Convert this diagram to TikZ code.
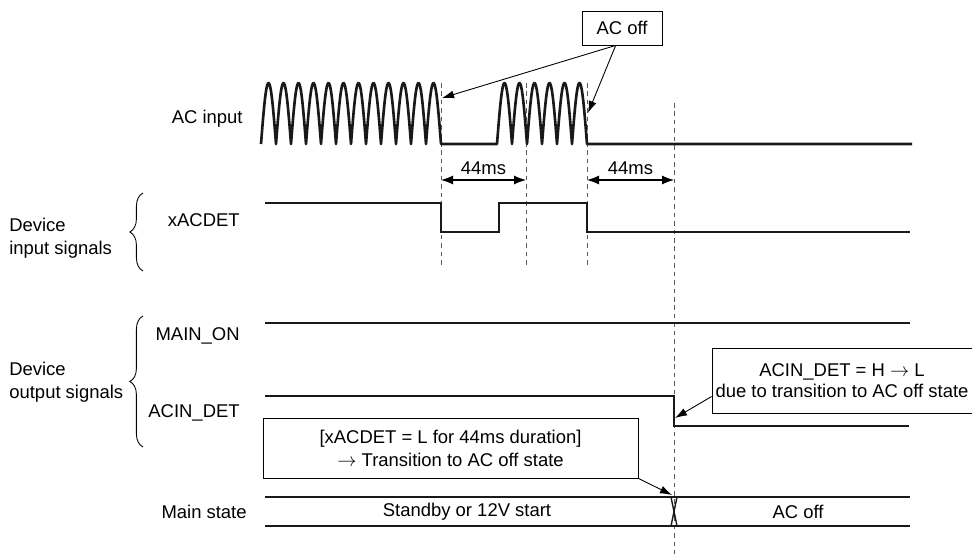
\documentclass[tikz,border=0pt]{standalone}
\usepackage{fontspec}
\setmainfont{Liberation Sans}
\usepackage{amsmath}
\usetikzlibrary{arrows.meta,positioning,decorations.pathreplacing}

\begin{document}
\begin{tikzpicture}[x=0.02cm,y=-0.02cm,
    font=\fontsize{10.5}{13}\selectfont,
    sig/.style={line width=1.2pt,black!90},
    guide/.style={black!65,line width=0.5pt,dash pattern=on 2.6pt off 2.2pt},
    note/.style={draw,line width=0.5pt,align=center},
    pointer/.style={line width=0.5pt,-{Latex[length=2.4mm,width=1.6mm]}},
    span/.style={line width=0.6pt,{Latex[length=2.4mm,width=1.8mm]}-{Latex[length=2.4mm,width=1.8mm]}}]
    \tikzstyle{every node}+=[inner sep=0pt]
    \useasboundingbox (0,0) rectangle (972,554);

    % signal names
    \node[anchor=east] (acin) at (243,119) {AC input};
    \node[anchor=east] (xacdet) at (240,220) {xACDET};
    \node[anchor=east] (mainon) at (240,336) {MAIN\_ON};
    \node[anchor=east] (acindet) at (240,413) {ACIN\_DET};
    \node[anchor=east] (mstate) at (247,512) {Main state};
    \node[anchor=west,align=left] (inlbl) at (9,238) {Device\\input signals};
    \node[anchor=west,align=left] (outlbl) at (9,382) {Device\\output signals};

    % braces
    \draw[decorate,decoration={brace,amplitude=7.5pt},line width=0.5pt] (143,271) -- (143,193);
    \draw[decorate,decoration={brace,amplitude=7.5pt},line width=0.5pt] (143,447) -- (143,316);

    % time marks
    \foreach \n/\x/\t/\b in {d1/441/83/265, d2/526/83/265, d3/587/83/265, d4/674/103/554} {
        \coordinate (\n t) at (\x,\t);
        \coordinate (\n b) at (\x,\b);
        \draw[guide] (\n t) -- (\n b);
    }

    % AC input
    \draw[sig,line width=1.5pt,line join=round] plot[domain=0:2160,samples=289] ({261+\x/12},{144-61*abs(sin(\x))})
        -- (497,144) -- plot[domain=0:1080,samples=145] ({497+\x/12},{144-61*abs(sin(\x))})
        -- (912,144);

    % xACDET
    \draw[sig] (265,203) -- (441,203) -- (441,232) -- (499,232) -- (499,203)
        -- (587,203) -- (587,232) -- (910,232);
    % MAIN_ON
    \draw[sig] (265,323) -- (910,323);
    % ACIN_DET
    \draw[sig] (265,396) -- (674,396) -- (674,426) -- (909,426);
    % main state
    \draw[sig] (265,497) -- (910,497);
    \draw[sig] (265,526) -- (910,526);
    \draw[sig,line width=0.8pt] (671,497) -- (677,526) (677,497) -- (671,526);
    \node (stby) at (467,512) {Standby or 12V start};
    \node (offst) at (798,512) {AC off};

    % 44ms spans
    \draw[span] (d1t |- 0,180) -- (d2t |- 0,180);
    \draw[span] (d3t |- 0,180) -- (d4t |- 0,180);
    \node (span1) at (483.5,168) {44ms};
    \node (span2) at (630.5,168) {44ms};

    % notes
    \node[note,minimum width=1.6cm,minimum height=0.68cm] (offbox) at (622,28) {AC off};
    \node[note,minimum width=5.2cm,minimum height=1.3cm,font=\fontsize{10.5}{11.6}\selectfont] (detbox) at (842,380.5)
        {ACIN\_DET = H $\rightarrow$ L\\due to transition to AC off state};
    \node[note,minimum width=7.5cm,minimum height=1.2cm] (trbox) at (450.5,448)
        {[xACDET = L for 44ms duration]\\$\rightarrow$ Transition to AC off state};

    \coordinate (cut1) at (442,98);
    \coordinate (cut2) at (588,113);
    \coordinate (fall) at (675,418);
    \coordinate (swap) at (672,495);
    \draw[pointer] (offbox.-110) -- (cut1);
    \draw[pointer] (offbox.-110) -- (cut2);
    \draw[pointer] (detbox.187) -- (fall);
    \draw[pointer] (trbox.south east) -- (swap);
\end{tikzpicture}
\end{document}
